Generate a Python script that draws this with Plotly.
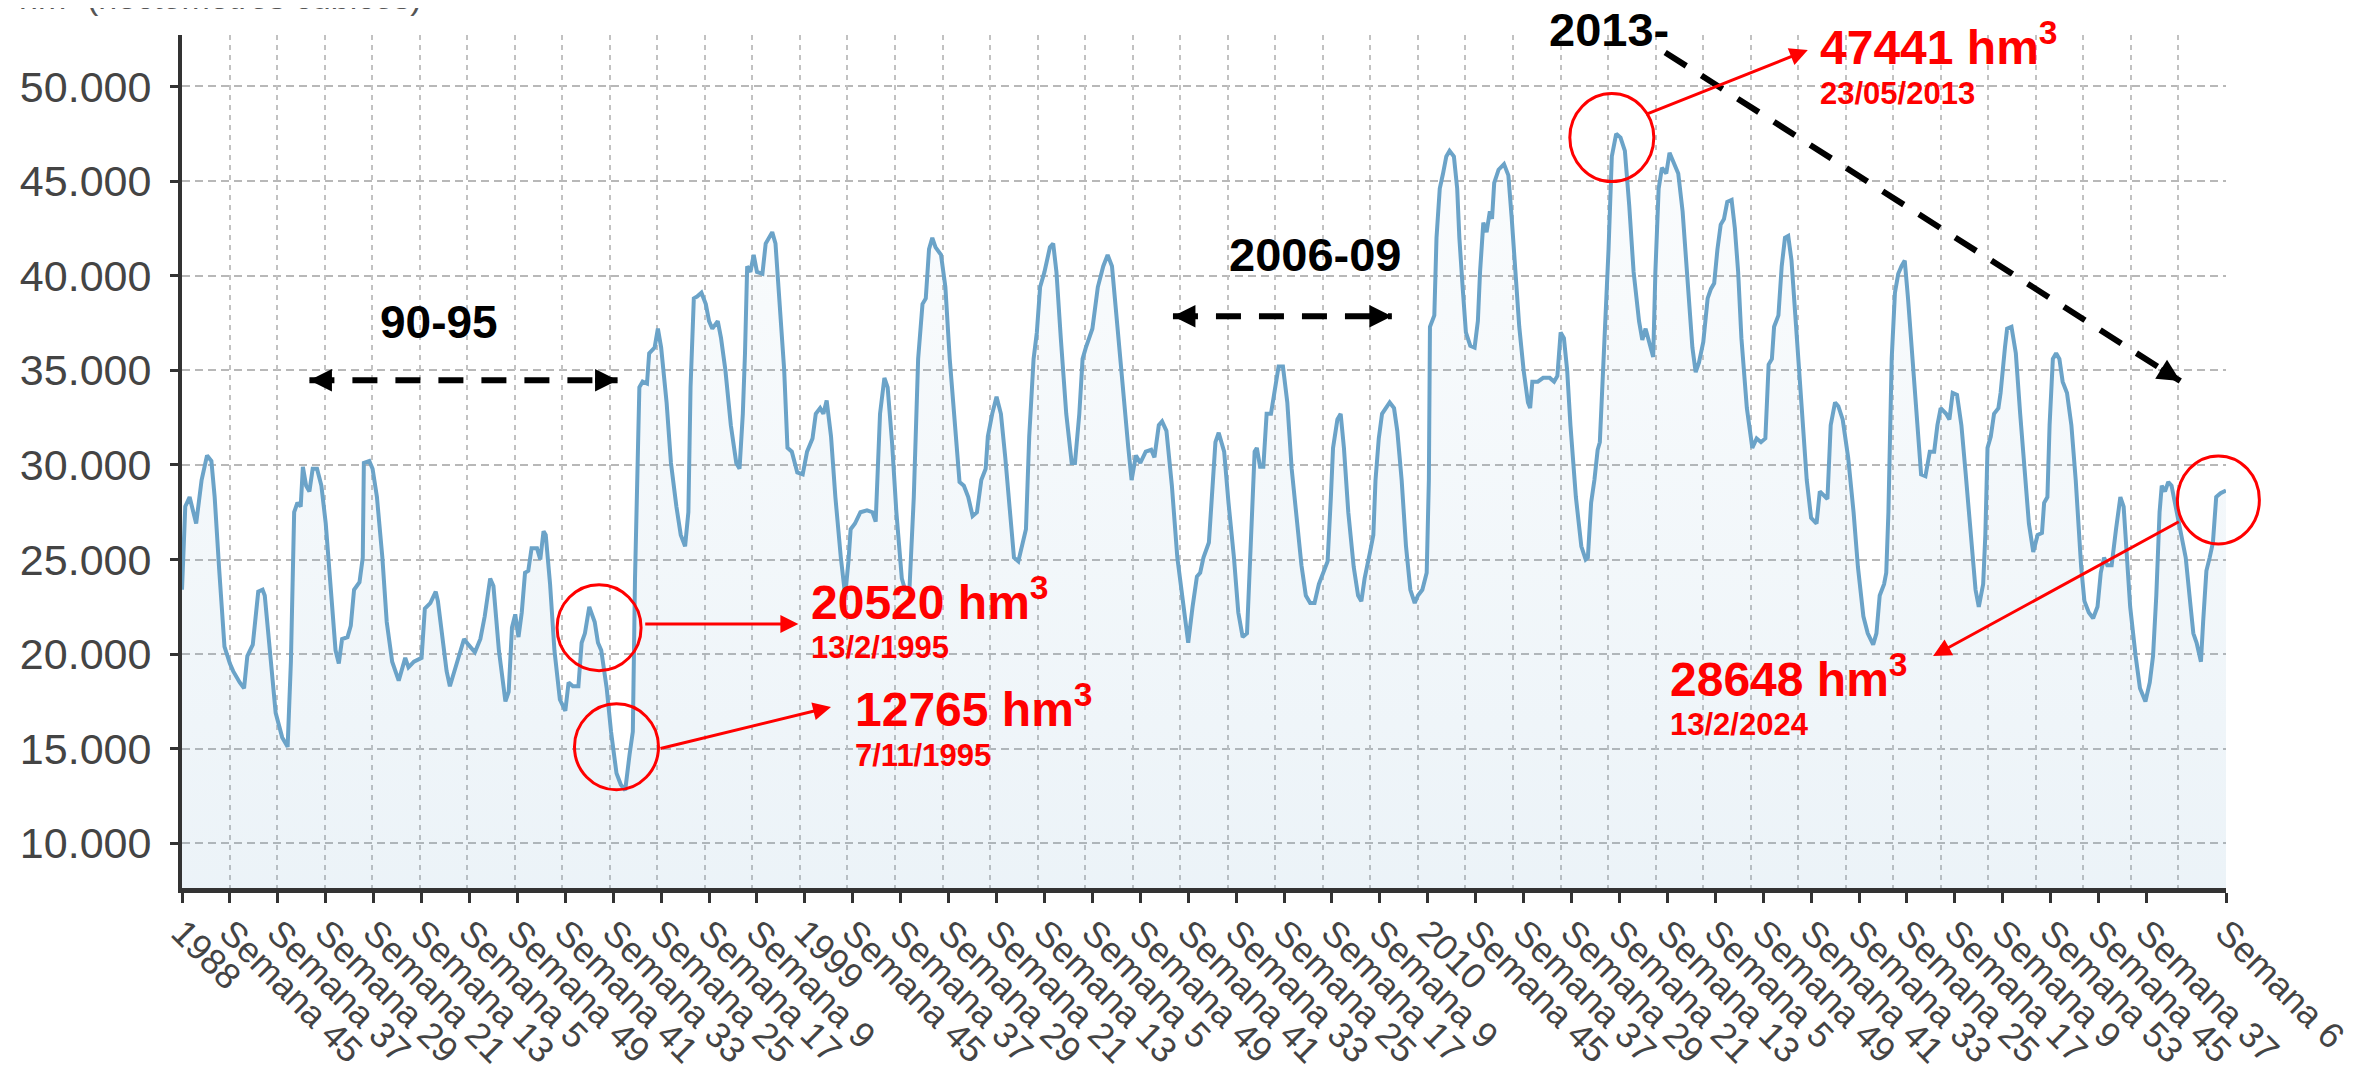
import plotly.graph_objects as go

# ---------------- data ----------------
# week index since week 1 of 1988, and reservoir volume in hm3
weeks = [0, 3, 7, 10, 13, 18, 23, 27, 30, 34, 39, 44, 47, 53, 57, 60, 65, 70, 74, 76,
         80, 86, 92, 97, 100, 103, 106, 109, 111, 114, 117, 120, 124, 128, 132, 137, 141, 144, 147, 152,
         155, 158, 163, 166, 167, 172, 175, 179, 184, 188, 193, 199, 205, 208, 213, 220, 223, 228, 233, 235,
         239, 243, 246, 251, 254, 259, 263, 269, 274, 278, 283, 286, 291, 297, 300, 303, 306, 309, 312, 315,
         318, 321, 326, 329, 332, 334, 338, 342, 347, 352, 355, 359, 364, 367, 370, 374, 379, 382, 385, 390,
         394, 399, 403, 407, 411, 414, 416, 420, 423, 427, 429, 434, 437, 440, 445, 449, 454, 458, 462, 465,
         467, 470, 473, 477, 481, 484, 487, 492, 495, 499, 504, 509, 512, 515, 517, 519, 522, 525, 528, 533,
         536, 542, 545, 548, 553, 556, 560, 565, 570, 574, 579, 582, 586, 589, 592, 596, 600, 605, 609, 612,
         614, 618, 623, 629, 634, 637, 641, 645, 648, 652, 656, 661, 664, 668, 672, 676, 680, 683, 686, 689,
         692, 697, 701, 705, 710, 714, 718, 722, 726, 730, 734, 738, 740, 744, 748, 752, 756, 760, 764, 768,
         771, 775, 778, 782, 785, 788, 792, 797, 800, 803, 807, 812, 817, 820, 824, 827, 830, 833, 836, 841,
         846, 850, 854, 859, 864, 869, 872, 876, 880, 885, 890, 893, 897, 900, 904, 909, 914, 920, 924, 928,
         932, 935, 938, 943, 946, 949, 952, 957, 961, 966, 970, 974, 978, 980, 983, 985, 987, 990, 993, 996,
         1000, 1003, 1007, 1011, 1015, 1019, 1024, 1028, 1032, 1036, 1040, 1044, 1048, 1052, 1055, 1057, 1061, 1064, 1067, 1071,
         1076, 1080, 1083, 1086, 1091, 1094, 1096, 1099, 1102, 1105, 1109, 1113, 1116, 1120, 1124, 1128, 1132, 1135, 1139, 1143,
         1145, 1146, 1150, 1152, 1155, 1158, 1161, 1164, 1168, 1171, 1173, 1176, 1179, 1183, 1187, 1190, 1192, 1195, 1198, 1201,
         1203, 1205, 1209, 1214, 1218, 1221, 1225, 1228, 1232, 1236, 1238, 1240, 1245, 1250, 1256, 1260, 1263, 1266, 1269, 1272,
         1275, 1280, 1285, 1289, 1291, 1294, 1297, 1300, 1302, 1305, 1307, 1310, 1313, 1317, 1321, 1325, 1329, 1333, 1338, 1341,
         1344, 1347, 1351, 1353, 1356, 1359, 1363, 1366, 1370, 1374, 1378, 1382, 1387, 1390, 1393, 1397, 1401, 1404, 1407, 1410,
         1413, 1416, 1419, 1423, 1426, 1429, 1432, 1437, 1442, 1446, 1450, 1454, 1457, 1460, 1462, 1466, 1469, 1472, 1475, 1478,
         1483, 1487, 1492, 1496, 1501, 1504, 1509, 1511, 1514, 1518, 1521, 1525, 1530, 1535, 1539, 1544, 1548, 1553, 1556, 1559,
         1563, 1565, 1567, 1570, 1573, 1576, 1579, 1582, 1585, 1589, 1594, 1597, 1601, 1605, 1609, 1612, 1615, 1620, 1623, 1626,
         1630, 1634, 1638, 1643, 1647, 1650, 1654, 1656, 1658, 1661, 1664, 1668, 1670, 1674, 1676, 1680, 1684, 1688, 1692, 1696,
         1700, 1704, 1708, 1710, 1713, 1715, 1718, 1721, 1724, 1727, 1731, 1735, 1739, 1744, 1747, 1751, 1755, 1759, 1762, 1765,
         1768, 1772, 1776, 1780, 1783, 1786, 1789, 1794, 1798, 1803, 1807, 1810, 1813, 1816, 1818, 1821, 1824, 1827, 1830, 1835,
         1840, 1844, 1847, 1850, 1854, 1856, 1859, 1862, 1865, 1868, 1872, 1877]

volume = [23400, 27800, 28300, 27500, 26900, 29200, 30500, 30200, 28300, 24600, 20400, 19500, 19100, 18500, 18200, 19900, 20500, 23300, 23400, 23100,
          20500, 16900, 15600, 15100, 19600, 27500, 28000, 27800, 29900, 28900, 28600, 29800, 29800, 28900, 26900, 23100, 20200, 19500, 20800, 20900,
          21500, 23400, 23800, 25100, 30100, 30200, 29800, 28300, 25100, 21700, 19600, 18600, 19800, 19300, 19600, 19800, 22400, 22700, 23300, 22800,
          20800, 19100, 18300, 19200, 19900, 20800, 20500, 20100, 20800, 22000, 24000, 23600, 20200, 17500, 18000, 21400, 22100, 20900, 22200, 24300,
          24400, 25600, 25600, 25000, 26500, 26300, 23700, 20200, 17600, 17000, 18500, 18300, 18300, 20600, 21100, 22500, 21700, 20600, 20200, 18200,
          15900, 13700, 13100, 12800, 14700, 15900, 24000, 34100, 34400, 34300, 35900, 36200, 37200, 36200, 33300, 30100, 27800, 26300, 25700, 27500,
          34100, 38800, 38900, 39100, 38500, 37600, 37200, 37600, 36700, 35000, 32100, 30100, 29800, 32700, 35900, 40500, 40200, 41100, 40200, 40100,
          41700, 42300, 41700, 39400, 35000, 30900, 30700, 29600, 29500, 30700, 31400, 32700, 33000, 32700, 33400, 31500, 28300, 25100, 23100, 24900,
          26600, 26900, 27500, 27600, 27500, 27000, 32700, 34600, 34100, 31200, 27500, 24000, 23400, 23400, 28300, 35600, 38500, 38800, 41400, 42000,
          41500, 41100, 39400, 35600, 31800, 29100, 28900, 28300, 27300, 27500, 29200, 29800, 31500, 32700, 33600, 32700, 30400, 27500, 25100, 24900,
          25600, 26600, 31500, 35600, 37000, 39400, 40200, 41500, 41700, 40200, 36700, 32700, 30100, 30100, 32700, 35600, 36200, 36700, 37200, 39400,
          40500, 41100, 40500, 37300, 33800, 30900, 29200, 30500, 30100, 30700, 30800, 30400, 32100, 32300, 31800, 28900, 25100, 22200, 20600, 22500,
          24100, 24300, 25100, 25900, 28600, 31200, 31700, 30700, 28000, 25100, 22200, 20900, 21100, 24000, 27500, 30700, 30900, 29900, 29900, 32700,
          32700, 33800, 35200, 35200, 33300, 29800, 26900, 24700, 23100, 22700, 22700, 23700, 24300, 24900, 28300, 30900, 32400, 32700, 30900, 27500,
          24600, 23100, 22800, 24000, 25400, 26300, 29200, 31400, 32700, 33000, 33300, 33000, 31800, 29200, 25700, 23400, 22700, 23100, 23400, 24300,
          29200, 37300, 37900, 42000, 44600, 45400, 46300, 46600, 46300, 44600, 42000, 39400, 37000, 36300, 36200, 37600, 40200, 42800, 42300, 43400,
          43000, 44900, 45600, 45900, 45300, 43100, 39600, 37300, 35000, 33300, 33000, 34400, 34400, 34600, 34600, 34400, 34700, 37000, 36700, 35000,
          32100, 28300, 25700, 25000, 25100, 28000, 29200, 30800, 31200, 35000, 36700, 41400, 46300, 47500, 47300, 46600, 43700, 40200, 37600, 36600,
          37200, 36500, 35700, 40200, 44600, 45700, 45400, 46500, 46000, 45400, 43400, 39900, 36200, 34900, 35400, 36500, 38800, 39300, 39600, 41400,
          42700, 43000, 43900, 44000, 42500, 40200, 36700, 33000, 30900, 31400, 31200, 31400, 35300, 35600, 37300, 37900, 40500, 42000, 42100, 40800,
          36700, 32700, 29200, 27200, 26900, 28600, 28300, 28200, 32100, 33300, 33100, 32400, 30400, 27500, 24600, 22000, 21100, 20500, 21100, 23100,
          23700, 24300, 27500, 35600, 39100, 40100, 40500, 40800, 38800, 35900, 32100, 29500, 29400, 30700, 30700, 32100, 33000, 32700, 32400, 33800,
          33700, 32100, 29500, 26300, 23400, 22500, 23700, 26300, 30900, 31500, 32700, 33000, 33800, 36200, 37200, 37300, 35900, 32700, 29800, 26900,
          25400, 26300, 26400, 28000, 28300, 32100, 35600, 35900, 35600, 34400, 33800, 32100, 29200, 24600, 22800, 22200, 21900, 22500, 24300, 25100,
          24700, 24700, 26600, 28300, 27800, 25100, 22500, 19900, 18200, 17500, 18500, 19900, 23100, 27500, 28900, 28600, 29100, 28900, 28000, 26600,
          25100, 22800, 21100, 20600, 19600, 21700, 24400, 25100, 25900, 28300, 28500, 28648]

tick_weeks = [0, 44, 88, 132, 176, 220, 264, 308, 352, 396, 440, 484, 528, 572,
              616, 660, 704, 748, 792, 836, 880, 924, 968, 1012, 1056, 1100, 1144,
              1188, 1232, 1276, 1320, 1364, 1408, 1452, 1496, 1540, 1584, 1628, 1672,
              1716, 1760, 1804, 1877]
tick_labels = ["1988", "Semana 45", "Semana 37", "Semana 29", "Semana 21", "Semana 13",
               "Semana 5", "Semana 49", "Semana 41", "Semana 33", "Semana 25", "Semana 17",
               "Semana 9", "1999", "Semana 45", "Semana 37", "Semana 29", "Semana 21",
               "Semana 13", "Semana 5", "Semana 49", "Semana 41", "Semana 33", "Semana 25",
               "Semana 17", "Semana 9", "2010", "Semana 45", "Semana 37", "Semana 29",
               "Semana 21", "Semana 13", "Semana 5", "Semana 49", "Semana 41", "Semana 33",
               "Semana 25", "Semana 17", "Semana 9", "Semana 53", "Semana 45", "Semana 37",
               "Semana 6"]
y_ticks = [10000, 15000, 20000, 25000, 30000, 35000, 40000, 45000, 50000]

# ---------------- layout constants ----------------
X_MAX = 1877
Y_MIN, Y_MAX = 7640, 52720
N_GRID = 43
FONT = "Liberation Sans, Arial, Helvetica, sans-serif"
RED = "#ff0000"
LINE_BLUE = "#6ba3c8"


def px(week):
    return week / X_MAX


def py(val):
    return (val - Y_MIN) / (Y_MAX - Y_MIN)


fig = go.Figure()
fig.add_trace(go.Scatter(
    x=weeks, y=volume, mode="lines",
    line=dict(color=LINE_BLUE, width=4),
    fill="tozeroy",
    fillgradient=dict(type="vertical",
                      colorscale=[[0, "rgba(107,163,200,0.13)"], [1, "rgba(107,163,200,0.03)"]],
                      start=Y_MIN, stop=48000),
    hoverinfo="skip", showlegend=False))
# helper trace so that the vertical-grid axis exists
fig.add_trace(go.Scatter(x=[0, N_GRID], y=[None, None], xaxis="x2", mode="lines",
                         hoverinfo="skip", showlegend=False))

annotations = []
shapes = []


def dashed(x0, y0, x1, y1):
    shapes.append(dict(type="line", xref="x", yref="y", x0=x0, y0=y0, x1=x1, y1=y1,
                       line=dict(color="black", width=6, dash="25px,18px"), layer="above"))


def head(x, y, axp, ayp, color="black", width=5, size=0.9):
    annotations.append(dict(x=x, y=y, xref="x", yref="y", ax=axp, ay=ayp, text="",
                            showarrow=True, arrowhead=2, arrowsize=size, arrowwidth=width,
                            arrowcolor=color))


dashed(117, 34480, 400, 34480)
head(117, 34480, 24, 0)
head(400, 34480, -24, 0)

dashed(910, 37850, 1111, 37850)
head(910, 37850, 24, 0)
head(1111, 37850, -24, 0)

dashed(1362, 51800, 1835, 34430)
head(1835, 34430, -21, -13)


def label(x, y, text, size, color="black", anchor="center", ref="data"):
    d = dict(x=x, y=y, text=text, showarrow=False, xanchor=anchor, yanchor="middle",
             font=dict(family=FONT, size=size, color=color))
    if ref == "data":
        d.update(xref="x", yref="y")
    else:
        d.update(xref="paper", yref="paper")
    annotations.append(d)


label(236, 37550, "<b>90-95</b>", 46)
label(1041, 41100, "<b>2006-09</b>", 47)
label(px(1310), py(53000), "<b>2013-</b>", 47, ref="paper")

# red value labels
label(576, 22900, "<b>20520 hm<sup>3</sup></b>", 48, RED, "left")
label(576, 20350, "<b>13/2/1995</b>", 31, RED, "left")
label(616, 17250, "<b>12765 hm<sup>3</sup></b>", 48, RED, "left")
label(616, 14650, "<b>7/11/1995</b>", 31, RED, "left")
label(1502, 52250, "<b>47441 hm<sup>3</sup></b>", 48, RED, "left")
label(1502, 49650, "<b>23/05/2013</b>", 31, RED, "left")
label(1365, 18850, "<b>28648 hm<sup>3</sup></b>", 48, RED, "left")
label(1365, 16300, "<b>13/2/2024</b>", 31, RED, "left")


def red_arrow(x, y, ax, ay):
    annotations.append(dict(x=x, y=y, xref="x", yref="y", ax=ax, ay=ay, axref="x", ayref="y",
                            text="", showarrow=True, arrowhead=2, arrowsize=1.2, arrowwidth=3,
                            arrowcolor=RED))


red_arrow(566, 21590, 424, 21590)
red_arrow(596, 17210, 438, 14990)
red_arrow(1493, 51930, 1343, 48490)
red_arrow(1608, 19900, 1835, 27040)


def circle(x, y, rx=42, ry=43):
    shapes.append(dict(type="circle", xref="paper", yref="paper",
                       xsizemode="pixel", ysizemode="pixel",
                       xanchor=px(x), yanchor=py(y), x0=-rx, x1=rx, y0=-ry, y1=ry,
                       line=dict(color=RED, width=3), layer="above"))


circle(383, 21400)
circle(399, 15100)
circle(1313, 47300, 42, 44)
circle(1870, 28150, 41, 44)

# partially visible axis title at the very top (cut by the page edge, as in the original)
annotations.append(dict(x=-166 / 2052, y=1 + (27 - 10) / 853, xref="paper", yref="paper",
                        text="hm³ (hectómetros cúbicos)", showarrow=False,
                        xanchor="left", yanchor="bottom",
                        font=dict(family=FONT, size=34, color="#555")))

# page has an 8px body margin: plot area sits at page x 174..2226, y 35..888
fig.update_layout(
    width=2379, height=1075,
    margin=dict(l=166, r=161, t=27, b=195, pad=0),
    paper_bgcolor="white", plot_bgcolor="white",
    separators=",.",
    font=dict(family=FONT, color="#444"),
    showlegend=False,
    xaxis=dict(range=[0, X_MAX], tickmode="array", tickvals=tick_weeks, ticktext=tick_labels,
               tickangle=45, ticks="outside", ticklen=10, tickwidth=3, tickcolor="#333",
               showline=True, linecolor="#333", linewidth=5, showgrid=False, zeroline=False,
               ticklabelstandoff=-6,
               tickfont=dict(family=FONT, size=36, color="#444")),
    xaxis2=dict(overlaying="x", range=[0, N_GRID], tickmode="linear", tick0=0, dtick=1,
                showgrid=True, gridcolor="#c2c2c2", gridwidth=2, griddash="5px,5px",
                showticklabels=False, ticks="", showline=False, zeroline=False, side="bottom"),
    yaxis=dict(range=[Y_MIN, Y_MAX], tickmode="array", tickvals=y_ticks, tickformat=",d",
               ticks="outside", ticklen=8, tickwidth=3, tickcolor="#333",
               showline=True, linecolor="#333", linewidth=4,
               showgrid=True, gridcolor="#b8b8b8", gridwidth=2, griddash="8px,5px",
               zeroline=False, ticklabelstandoff=10,
               tickfont=dict(family=FONT, size=43, color="#444")),
    annotations=annotations,
    shapes=shapes,
)

fig.write_html("out.html")
